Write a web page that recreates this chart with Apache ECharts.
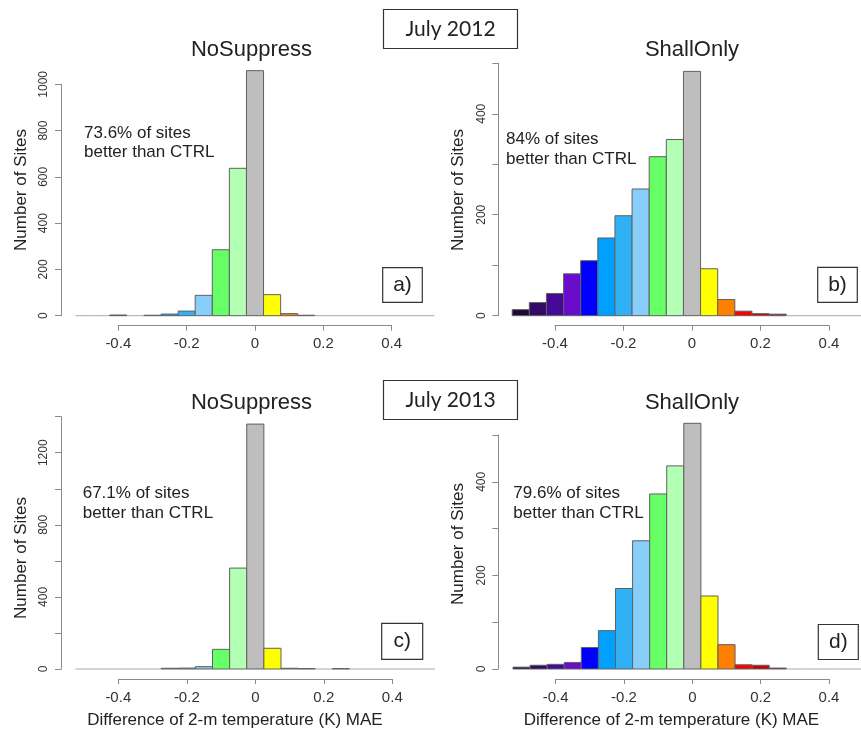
<!DOCTYPE html>
<html>
<head>
<meta charset="utf-8">
<script src="https://cdn.jsdelivr.net/npm/echarts@6/dist/echarts.min.js"></script>
<style>
html,body{margin:0;padding:0;background:#fff;}
#chart{width:861px;height:737px;}
</style>
</head>
<body>
<div id="chart"></div>
<script>
// Bin centres (K), bin width 0.05
const binCenters = [-0.5,-0.45,-0.4,-0.35,-0.3,-0.25,-0.2,-0.15,-0.1,-0.05,0,0.05,0.1,0.15,0.2,0.25,0.3,0.35,0.4,0.45,0.5];
const binColors = ['#1c0a35','#330a66','#450a96','#6a0ccc','#0000ff','#00a0ff','#30b0f5','#87cefa','#66ff66','#b3ffb3','#bebebe','#ffff00','#ff8000','#ff0000','#cc0000','#a00000','#800000','#800000','#800000','#800000','#800000'];
// Counts per bin
const countsA = [0,0,3,0,2,7,20,88,285,637,1059,91,9,2,0,0,0,0,0,0,0];       // July 2012 NoSuppress
const countsB = [12,26,44,83,109,154,198,251,315,349,484,93,32,9,4,3,0,0,0,0,0]; // July 2012 ShallOnly
const countsC = [0,0,0,0,0,4,5,13,109,560,1359,115,4,2,0,2,0,0,0,0,0];      // July 2013 NoSuppress
const countsD = [4,8,10,14,46,82,172,274,374,434,525,156,52,9,8,2,0,0,0,0,0];  // July 2013 ShallOnly
const xTicks = [-0.4,-0.2,0,0.2,0.4];
const panelTitles = ['NoSuppress','ShallOnly','NoSuppress','ShallOnly'];
const panelLetters = ['a)','b)','c)','d)'];
const panelNotes = ['73.6% of sites\nbetter than CTRL','84% of sites\nbetter than CTRL','67.1% of sites\nbetter than CTRL','79.6% of sites\nbetter than CTRL'];
const monthLabels = ['July 2012','July 2013'];
const yMax = [1000,500,1400,500];
const yStep = [200,100,200,100];
const yLabelStep = [200,200,400,200];
const yLabelMax = [1000,400,1200,400];
const xName = 'Difference of 2-m temperature (K) MAE';
const yName = 'Number of Sites';

const FONT = "'Liberation Sans', Arial, sans-serif";
const halfBin = 0.025;

const grids = [
  {left:118.3, right:469.3, top:84.3, bottom:421.3},
  {left:555,   right:32,    top:63.3, bottom:421.3},
  {left:118.3, right:468.7, top:416.7, bottom:68},
  {left:555.7, right:32,    top:435,  bottom:68}
];
const allCounts = [countsA, countsB, countsC, countsD];

const xAxes = grids.map((g,i)=>({
  type:'value', gridIndex:i, min:-0.4, max:0.4, interval:0.2, offset:10,
  axisLine:{show:true, onZero:false, lineStyle:{color:'#8a8a8a', width:1}},
  axisTick:{show:true, length:5, lineStyle:{color:'#8a8a8a'}},
  splitLine:{show:false},
  axisLabel:{show:true, color:'#333', fontSize:15, fontFamily:FONT, margin:11}
}));
const yAxes = grids.map((g,i)=>({
  type:'value', gridIndex:i, min:0, max:yMax[i], interval:yStep[i],
  offset: g.left - (i%2===0 ? 61 : 498.3),
  axisLine:{show:true, onZero:false, lineStyle:{color:'#8a8a8a', width:1}},
  axisTick:{show:true, length:6, lineStyle:{color:'#8a8a8a'}},
  splitLine:{show:false},
  axisLabel:{show:true, rotate:90, color:'#333', fontSize:12, fontFamily:FONT, margin:11,
    formatter:(v)=> (v % yLabelStep[i] === 0 && v <= yLabelMax[i]) ? String(v) : ''}
}));

function makeRender(idx){
  return function(params, api){
    const c = api.value(0), v = api.value(1);
    const p0 = api.coord([c - halfBin, v]);
    const p1 = api.coord([c + halfBin, 0]);
    if (v <= 0) {
      return {type:'line', shape:{x1:p0[0], y1:p1[1], x2:p1[0], y2:p1[1]},
        style:{stroke:'#a8a8a8', lineWidth:1}};
    }
    return {type:'rect', shape:{x:p0[0], y:p0[1], width:p1[0]-p0[0], height:p1[1]-p0[1]},
      style:{fill: binColors[params.dataIndex], stroke:'#606060', lineWidth:1}};
  };
}
const series = allCounts.map((arr,i)=>({
  type:'custom', xAxisIndex:i, yAxisIndex:i, clip:false,
  renderItem: makeRender(i),
  data: binCenters.map((c,k)=>[c, arr[k]])
}));

function txt(text, x, y, size, opts){
  opts = opts || {};
  return {type:'text', x:x, y:y, rotation: opts.rotation || 0, z:10,
    style:{text:text, x:0, y:0, fill:opts.fill||'#222', font: size+'px '+(opts.family||FONT),
      fontSize:size, fontFamily:opts.family||FONT,
      textAlign:opts.align||'center', align:opts.align||'center',
      textVerticalAlign:opts.valign||'middle', verticalAlign:opts.valign||'middle',
      lineHeight: opts.lineHeight}};
}
function box(x,y,w,h){
  return {type:'rect', z:9, shape:{x:x, y:y, width:w, height:h},
    style:{fill:'#fff', stroke:'#333', lineWidth:1.2}};
}

const graphic = [
  box(383.5, 9.5, 134, 39), txt(monthLabels[0], 450.5, 29, 21, {family:"Lato, 'Open Sans', sans-serif"}),
  box(383.5, 380.5, 134, 39), txt(monthLabels[1], 450.5, 400, 21, {family:"Lato, 'Open Sans', sans-serif"}),
  txt(panelTitles[0], 251.5, 49.5, 22),
  txt(panelTitles[1], 692, 49.5, 22),
  txt(panelTitles[2], 251.5, 403, 22),
  txt(panelTitles[3], 692, 403, 22),
  txt(yName, 21.5, 190, 17, {rotation:Math.PI/2}),
  txt(yName, 458.5, 190, 17, {rotation:Math.PI/2}),
  txt(yName, 21.5, 558, 17, {rotation:Math.PI/2}),
  txt(yName, 458.5, 544, 17, {rotation:Math.PI/2}),
  txt(xName, 235, 720.5, 17),
  txt(xName, 671.5, 720.5, 17),
  txt(panelNotes[0], 84, 123.5, 17, {align:'left', valign:'top', lineHeight:19}),
  txt(panelNotes[1], 506, 129.5, 17, {align:'left', valign:'top', lineHeight:20}),
  txt(panelNotes[2], 82.7, 483.5, 17, {align:'left', valign:'top', lineHeight:20}),
  txt(panelNotes[3], 513.3, 483.5, 17, {align:'left', valign:'top', lineHeight:20}),
  box(382.7, 267.7, 39.6, 34.6), txt(panelLetters[0], 402.5, 285, 21),
  box(817.7, 267.3, 39.6, 35), txt(panelLetters[1], 837.5, 285, 21),
  box(381.7, 623.3, 41, 36), txt(panelLetters[2], 402.2, 641.3, 21),
  box(818.3, 624.5, 40, 35), txt(panelLetters[3], 838.3, 642, 21)
];

const chart = echarts.init(document.getElementById('chart'), null, {renderer:'canvas'});
chart.setOption({
  animation:false,
  backgroundColor:'#fff',
  grid: grids.map(g=>Object.assign({containLabel:false}, g)),
  xAxis: xAxes,
  yAxis: yAxes,
  series: series,
  graphic: graphic
});
</script>
</body>
</html>
